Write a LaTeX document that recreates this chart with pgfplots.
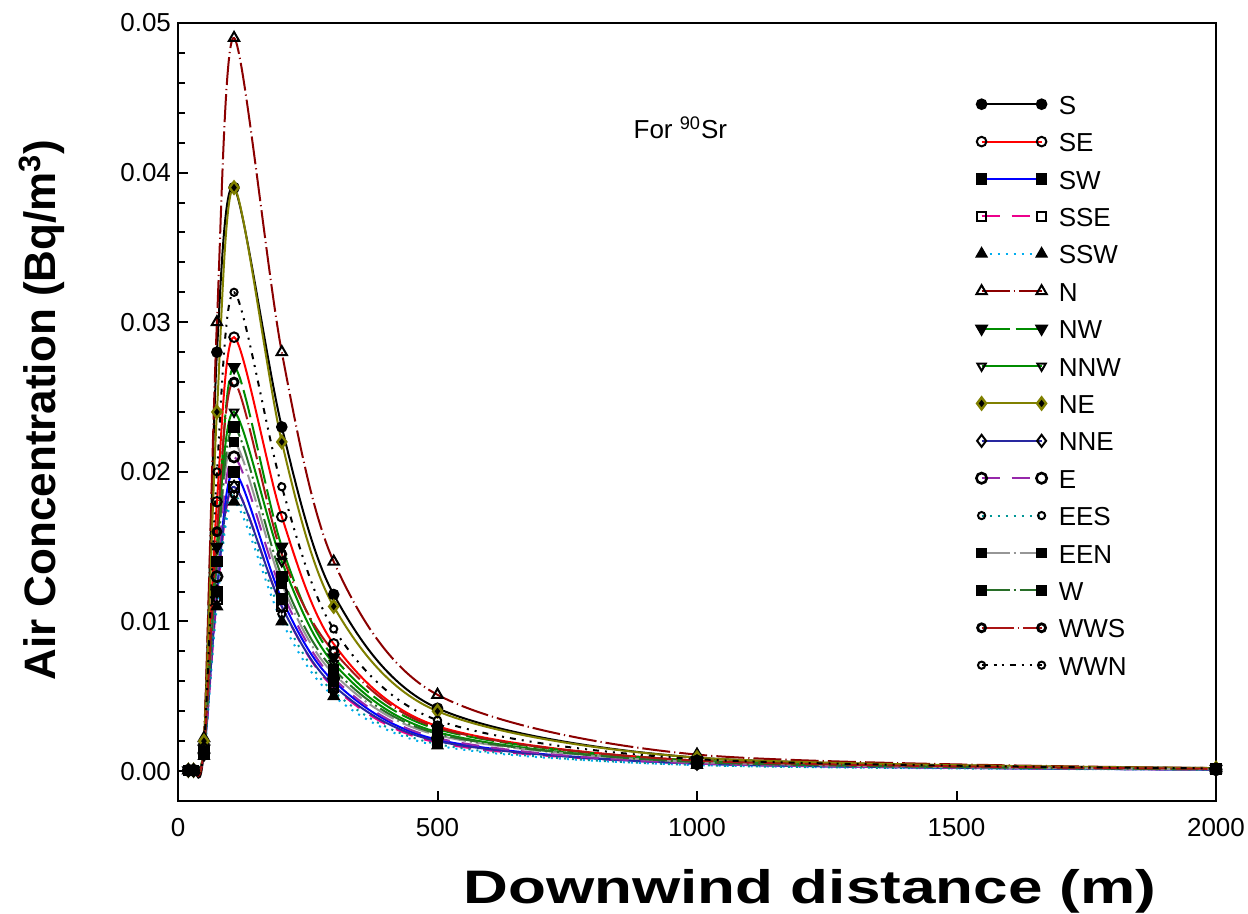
\documentclass[border=0pt]{standalone}
\usepackage{fontspec}
\setmainfont{Liberation Sans}
\usepackage{pgfplots}
\pgfplotsset{compat=1.18}
\usepackage{pgfplotstable}

\definecolor{cN}{RGB}{139,0,0}
\definecolor{cGreen}{RGB}{0,140,0}
\definecolor{cOlive}{RGB}{128,128,0}
\definecolor{cNavy}{RGB}{40,40,160}
\definecolor{cPurple}{RGB}{150,40,170}
\definecolor{cTeal}{RGB}{0,150,150}
\definecolor{cGray}{RGB}{150,150,150}
\definecolor{cDkGreen}{RGB}{40,110,40}
\definecolor{cWWS}{RGB}{170,20,20}

% downwind distance (m) vs air concentration (Bq/m3)
\pgfplotstableread{
x    S       SE      SW      SSE     SSW     N       NW      NNW     NE      NNE     E       EES     EEN     W       WWS     WWN
20   0.00005 0.00005 0.00005 0.00005 0.00005 0.00005 0.00005 0.00005 0.00005 0.00005 0.00005 0.00005 0.00005 0.00005 0.00005 0.00005
30   0.00005 0.00005 0.00005 0.00005 0.00005 0.00005 0.00005 0.00005 0.00005 0.00005 0.00005 0.00005 0.00005 0.00005 0.00005 0.00005
50   0.0018  0.0014  0.0012  0.0011  0.0010  0.0022  0.0015  0.0014  0.0020  0.0011  0.0012  0.0011  0.0013  0.0013  0.0014  0.0016
75   0.028   0.018   0.012   0.0115  0.011   0.030   0.015   0.015   0.024   0.012   0.013   0.0115  0.014   0.014   0.016   0.020
108  0.039   0.029   0.020   0.019   0.018   0.049   0.027   0.024   0.039   0.019   0.021   0.0185  0.022   0.023   0.026   0.032
200  0.023   0.017   0.0115  0.011   0.010   0.028   0.015   0.014   0.022   0.011   0.012   0.0105  0.0125  0.013   0.0145  0.019
300  0.0118  0.0085  0.0060  0.0056  0.0050  0.014   0.0076  0.0072  0.011   0.0057  0.0062  0.0053  0.0065  0.0068  0.0080  0.0095
500  0.0042  0.0030  0.0021  0.0019  0.0017  0.0051  0.0028  0.0026  0.0040  0.0020  0.0022  0.0018  0.0024  0.0025  0.0029  0.0034
1000 0.0009  0.0007  0.0005  0.0005  0.0004  0.0011  0.0007  0.0006  0.0009  0.0005  0.0005  0.0004  0.0006  0.0006  0.0007  0.0008
2000 0.0002  0.00015 0.0001  0.0001  0.0001  0.0002  0.00015 0.00012 0.0002  0.0001  0.0001  0.0001  0.00012 0.00012 0.00015 0.00018
}\data

\begin{document}
\begin{tikzpicture}
\begin{axis}[
  name=ax,
  scale only axis,
  width=519pt, height=389pt,
  xmin=0, xmax=2000, ymin=-0.002, ymax=0.05,
  xtick={0,500,1000,1500,2000},
  ytick={0,0.01,0.02,0.03,0.04,0.05},
  minor ytick={-0.002,0.002,0.004,0.006,0.008,0.012,0.014,0.016,0.018,0.022,0.024,0.026,0.028,0.032,0.034,0.036,0.038,0.042,0.044,0.046,0.048},
  tick align=inside,
  xtick pos=lower, ytick pos=left,
  major tick length=5pt, minor tick length=3.5pt,
  every tick/.style={black, line width=1pt},
  axis line style={line width=1.2pt},
  /pgf/number format/assume math mode=true,
  tick label style={font=\fontsize{13}{15}\selectfont},
  x tick label style={/pgf/number format/1000 sep={}, yshift=-5pt},
  y tick label style={/pgf/number format/.cd, fixed, fixed zerofill, precision=2},
  scaled y ticks=false,
  legend style={draw=none, fill=none, at={(0.763,0.918)}, anchor=north west,
    font=\fontsize{13}{15}\selectfont, row sep=5.7pt,
    nodes={inner ysep=1.5pt, text height=10pt, text depth=0pt},
    /tikz/every odd column/.append style={column sep=4pt}},
  legend cell align=left,
  legend image code/.code={\draw[#1] plot coordinates {(0pt,0pt) (30pt,0pt)};},
  every axis plot/.append style={line width=1pt, smooth},
]
\addplot[black, mark=*, mark size=2.4pt, mark options={solid, fill=black}] table[y=S]{\data};
\addlegendentry{S}
\addplot[red, mark=o, mark size=2.4pt, mark options={solid, draw=black, fill=white}] table[y=SE]{\data};
\addlegendentry{SE}
\addplot[blue, mark=square*, mark size=2.4pt, mark options={solid, draw=black, fill=black}] table[y=SW]{\data};
\addlegendentry{SW}
\addplot[magenta, dash pattern=on 9pt off 6pt, mark=square, mark size=2.4pt, mark options={solid, draw=black, fill=white}] table[y=SSE]{\data};
\addlegendentry{SSE}
\addplot[cyan, dash pattern=on 1pt off 3pt, mark=triangle*, mark size=2.8pt, mark options={solid, draw=black, fill=black}] table[y=SSW]{\data};
\addlegendentry{SSW}
\addplot[cN, dash pattern=on 14pt off 2pt on 0.6pt off 2pt, mark=triangle, mark size=3pt, mark options={solid, draw=black, fill=white}] table[y=N]{\data};
\addlegendentry{N}
\addplot[cGreen, dash pattern=on 14pt off 3pt, mark=triangle*, mark size=3pt, mark options={solid, rotate=180, draw=black, fill=black}] table[y=NW]{\data};
\addlegendentry{NW}
\addplot[cGreen, mark=triangle, mark size=2.4pt, mark options={solid, rotate=180, draw=black, fill=white}] table[y=NNW]{\data};
\addlegendentry{NNW}
\addplot[cOlive, mark=diamond*, mark size=3pt, mark options={solid, draw=cOlive, line width=1.2pt, fill=black}] table[y=NE]{\data};
\addlegendentry{NE}
\addplot[cNavy, mark=diamond, mark size=3pt, mark options={solid, draw=black, fill=white}] table[y=NNE]{\data};
\addlegendentry{NNE}
\addplot[cPurple, dash pattern=on 9pt off 6pt, mark=o, mark size=2.6pt, mark options={solid, draw=black, fill=white, line width=1.3pt}] table[y=E]{\data};
\addlegendentry{E}
\addplot[cTeal, dash pattern=on 1pt off 3pt, mark=o, mark size=1.8pt, mark options={solid, draw=black, fill=white}] table[y=EES]{\data};
\addlegendentry{EES}
\addplot[cGray, dash pattern=on 14pt off 2pt on 1pt off 2pt, mark=square*, mark size=2.2pt, mark options={solid, draw=black, fill=black}] table[y=EEN]{\data};
\addlegendentry{EEN}
\addplot[cDkGreen, dash pattern=on 14pt off 2pt on 1pt off 2pt, mark=square*, mark size=2.4pt, mark options={solid, draw=black, fill=black}] table[y=W]{\data};
\addlegendentry{W}
\addplot[cWWS, dash pattern=on 16pt off 2pt on 0.6pt off 2pt, mark=o, mark size=2pt, mark options={solid, draw=black, fill=white, line width=1.4pt}] table[y=WWS]{\data};
\addlegendentry{WWS}
\addplot[black, dash pattern=on 3pt off 3pt on 1pt off 3pt on 1pt off 3pt, mark=o, mark size=1.8pt, mark options={solid, draw=black, fill=white}] table[y=WWN]{\data};
\addlegendentry{WWN}

\node[font=\fontsize{13}{15}\selectfont] at (axis description cs:0.484,0.865) {For \textsuperscript{90}Sr};
\end{axis}
\node[rotate=90, font=\fontsize{22}{26}\selectfont\bfseries] at ([xshift=-68pt, yshift=195.5pt]ax.south west) {Air Concentration (Bq/m\textsuperscript{3})};
\node[font=\fontsize{23.5}{27}\selectfont\bfseries] at ([xshift=316pt, yshift=-45pt]ax.south west) {\scalebox{1.32}[1]{Downwind distance (m)}};
\pgfresetboundingbox
\path[use as bounding box] (ax.south west) ++(-89pt,-56.5pt) rectangle ++(624pt,457pt);
\end{tikzpicture}
\end{document}
